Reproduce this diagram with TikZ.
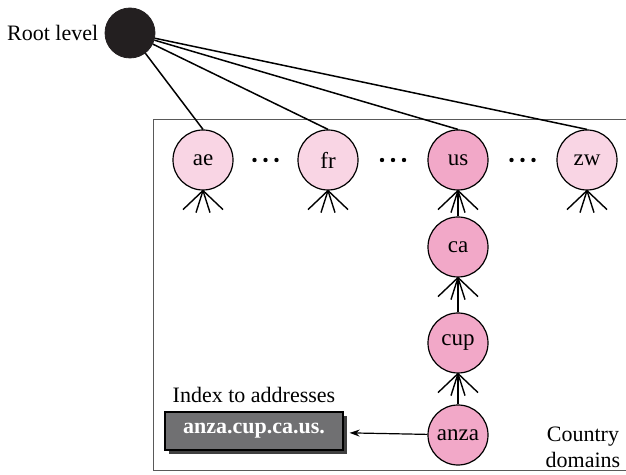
\documentclass[tikz,border=0pt]{standalone}
\usepackage{fontspec}
\setmainfont{Liberation Serif}
\usetikzlibrary{arrows.meta, positioning, shadows}
\definecolor{pinklight}{RGB}{249,213,228}
\definecolor{pinkmid}{RGB}{242,168,200}
\definecolor{boxgray}{RGB}{112,112,114}
\definecolor{rootblack}{RGB}{35,31,32}
\tikzset{
    rootnode/.style={
        circle, draw=rootblack, fill=rootblack,
        minimum size=25pt, inner sep=0pt,
    },
    toplevel/.style={
        circle, draw=black, fill=pinklight,
        minimum size=30pt, inner sep=0pt,
        font=\fontsize{11.5}{13}\selectfont,
        line width=0.6pt,
    },
    subdomain/.style={
        toplevel, fill=pinkmid,
    },
    addrbox/.style={
        rectangle, draw=black, fill=boxgray,
        minimum width=89pt, minimum height=19pt,
        text=white, font=\fontsize{11}{13}\selectfont\bfseries,
        line width=0.6pt,
        drop shadow={shadow xshift=2pt, shadow yshift=-2pt,
                     fill=black!75, opacity=1},
    },
    plain/.style={
        font=\fontsize{11}{13}\selectfont, inner sep=1pt,
    },
    link/.style={
        line width=0.75pt, color=black,
    },
    fanline/.style={
        line width=0.7pt, color=black,
    },
    arr/.style={
        -{Stealth[length=5pt, width=3.5pt]}, line width=0.6pt,
        shorten >=3pt,
    },
    zoneline/.style={
        draw=black!65, line width=0.5pt,
    },
}
% fan of lines under a domain node
\newcommand{\crowfoot}[1]{%
    \foreach \dx/\dy in {-20/19,-7/22,7/22,20/19}
        \draw[fanline] (#1.south) -- ++(\dx,\dy);
}

\begin{document}
\begin{tikzpicture}[x=0.5pt, y=-0.5pt]

    \useasboundingbox (0,0) rectangle (626,475);

    % ── Country domain zone ──
    \draw[zoneline] (626,120) -- (153,120) -- (153,470) -- (626,470);

    % ── Root ──
    \node[rootnode] (root) at (130,33) {};
    \node[plain, left=2pt of root] (rootlbl) {Root level};

    % ── Top-level domains ──
    \node[toplevel] (ae) at (203,160) {ae};
    \node[toplevel] (fr) at (328,160) {fr};
    \node[subdomain] (us) at (458,160) {us};
    \node[toplevel] (zw) at (587,160) {zw};

    % ── Dots between top-level domains ──
    \foreach \cx in {265.5,393,522.5}
        \foreach \off in {-11,0,11}
            \fill (\cx+\off,160) circle (2.2);

    % ── Down the us branch ──
    \node[subdomain] (ca)   at (458,247) {ca};
    \node[subdomain] (cup)  at (458,343) {cup};
    \node[subdomain] (anza) at (458,435) {anza};

    % ── Root to top level ──
    \draw[link] (root) -- (ae.north);
    \draw[link] (root) -- (fr.north);
    \draw[link] (root) -- (us.north);
    \draw[link] (root) -- (zw.north);

    % ── Branch links ──
    \draw[link] (ca)   -- (us);
    \draw[link] (cup)  -- (ca);
    \draw[link] (anza) -- (cup);

    % ── Fans ──
    \crowfoot{ae}
    \crowfoot{fr}
    \crowfoot{us}
    \crowfoot{zw}
    \crowfoot{ca}
    \crowfoot{cup}

    % ── Index ──
    \node[addrbox] (addr) at (254,431) {anza.cup.ca.us.};
    \node[plain, above=3pt of addr] (idxlbl) {Index to addresses};
    \draw[arr] (anza) -- (addr);

    % ── Label ──
    \node[plain, align=center] (country) at (583,447) {Country\\domains};

\end{tikzpicture}
\end{document}
